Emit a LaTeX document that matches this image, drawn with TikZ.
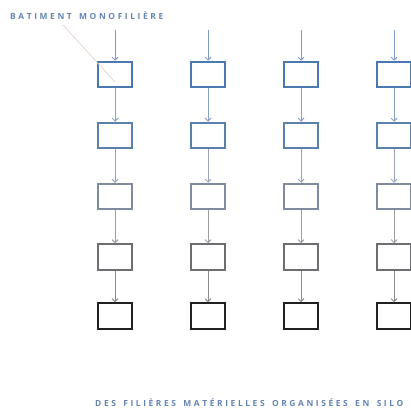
\documentclass[tikz,border=0pt]{standalone}
\usepackage{fontspec}
\usepackage{xcolor}
\usetikzlibrary{arrows.meta,positioning}
\newfontfamily\captionfont{Open Sans}

\makeatletter
\newcommand\tracked[1]{\@tfor\ch:=#1\do{\ch\kern0.31em}}
\makeatother

\definecolor{rowA}{HTML}{4A78B0}
\definecolor{rowB}{HTML}{5A80AE}
\definecolor{rowC}{HTML}{7D8AA0}
\definecolor{rowD}{HTML}{6E6E72}
\definecolor{rowE}{HTML}{202020}
\definecolor{arrA}{HTML}{7F9CC4}
\definecolor{arrB}{HTML}{8AA0C0}
\definecolor{arrC}{HTML}{98A4B8}
\definecolor{arrD}{HTML}{9C9CA2}
\definecolor{arrE}{HTML}{8C8C8C}
\definecolor{leader}{HTML}{E2D0C8}
\definecolor{captxt}{HTML}{6484B4}

\begin{document}
\begin{tikzpicture}[
  x=1pt, y=-1pt,
  silobox/.style={draw, line width=2pt, minimum width=34pt, minimum height=25.5pt, inner sep=0pt},
  flow/.style={-{Straight Barb[length=3pt, width=6pt]}, line width=0.9pt},
  caption/.style={font=\captionfont\bfseries\fontsize{8.4}{10}\selectfont, text=captxt, inner sep=0pt}
]
\useasboundingbox (0,0) rectangle (411,412);

% columns of boxes, one colour per row
\foreach \c/\x in {1/115, 2/208, 3/301, 4/394} {
  \foreach \r/\y/\col in {1/74.5/rowA, 2/135.5/rowB, 3/196.5/rowC, 4/257/rowD, 5/316/rowE} {
    \node[silobox, draw=\col] (b-\c-\r) at (\x,\y) {};
  }
  \coordinate (in-\c) at (\x,30);
  \draw[flow, draw=arrA] (in-\c) -- (b-\c-1);
  \draw[flow, draw=arrB] (b-\c-1) -- (b-\c-2);
  \draw[flow, draw=arrC] (b-\c-2) -- (b-\c-3);
  \draw[flow, draw=arrD] (b-\c-3) -- (b-\c-4);
  \draw[flow, draw=arrE] (b-\c-4) -- (b-\c-5);
}

% labels
\node[caption, anchor=base west] (mono) at (10,20) {\tracked{BATIMENT~MONOFILI{\`E}RE}};
\node[caption, anchor=base west] (silo) at (95,406) {\tracked{DES~FILI{\`E}RES~MAT{\'E}RIELLES~ORGANIS{\'E}ES~EN~SILO}};

\coordinate (leadstart) at (63,25);
\coordinate (leadend) at (115,82);
\draw[leader, line width=0.7pt] (leadstart) -- (leadend);
\end{tikzpicture}
\end{document}
